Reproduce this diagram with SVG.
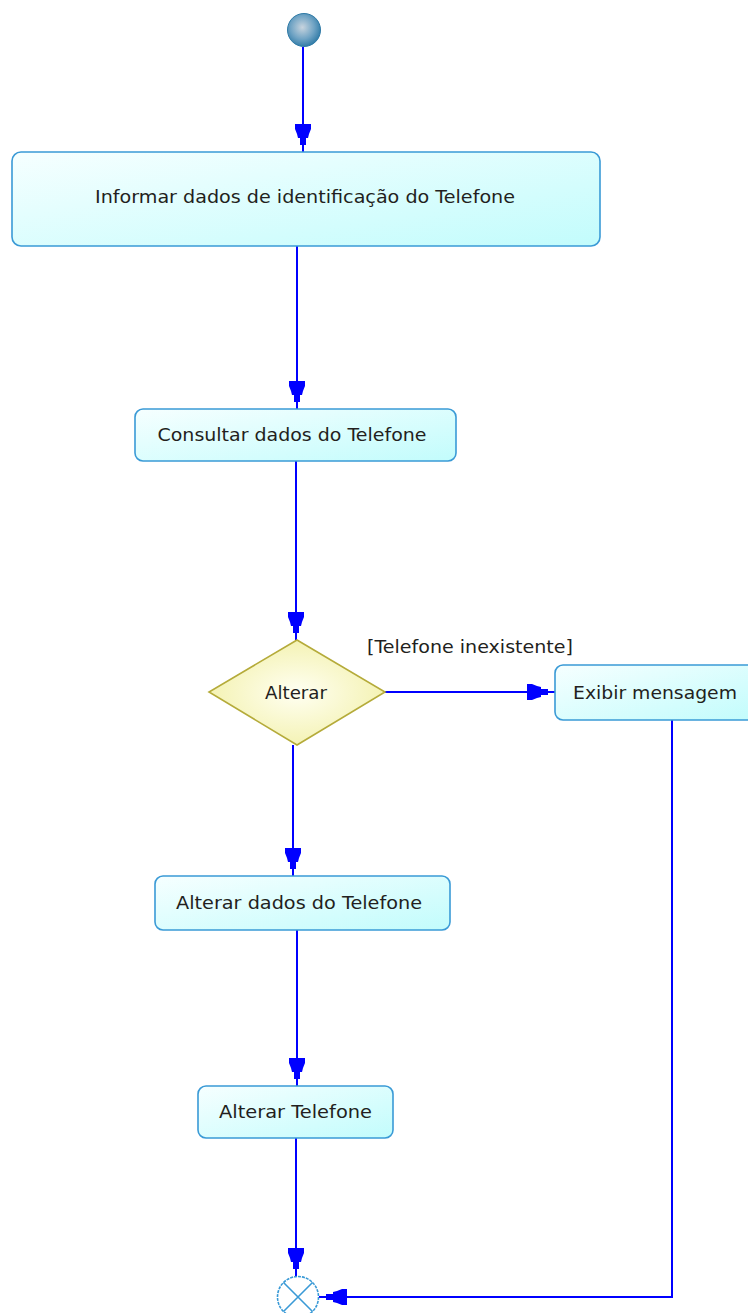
<svg xmlns="http://www.w3.org/2000/svg" width="748" height="1313" viewBox="0 0 748 1313">
<style>
.act{fill:url(#actGrad);stroke:#3a9ad6;stroke-width:1.6}
.lbl{font-family:"DejaVu Sans","Liberation Sans",sans-serif;font-size:18px;fill:#231f20;text-anchor:middle}
.glbl{font-family:"DejaVu Sans","Liberation Sans",sans-serif;font-size:18px;fill:#231f20}
.conn{fill:none;stroke:#0000ff;stroke-width:2}
</style>
<defs>
<linearGradient id="actGrad" x1="0" y1="0" x2="1" y2="1">
<stop offset="0" stop-color="#f6ffff"/>
<stop offset="1" stop-color="#c2fcfc"/>
</linearGradient>
<radialGradient id="decGrad" cx="0.5" cy="0.5" r="0.6">
<stop offset="0" stop-color="#fffff2"/>
<stop offset="1" stop-color="#f2f0a8"/>
</radialGradient>
<radialGradient id="startGrad" cx="0.45" cy="0.42" r="0.6">
<stop offset="0" stop-color="#c8d4de"/>
<stop offset="0.6" stop-color="#6fa3c4"/>
<stop offset="1" stop-color="#2f7aa6"/>
</radialGradient>
<marker id="arr" viewBox="-30 -10 32 20" markerWidth="32" markerHeight="20" refX="0" refY="0" orient="auto" markerUnits="userSpaceOnUse">
<path d="M-28,-8 L-23,-8 L-18,-6 L-14,-5 L-14,-3 L-7,-3 L-7,-1 L0,-1 L0,1 L-7,1 L-7,3 L-14,3 L-14,5 L-18,6 L-23,8 L-28,8 Z" fill="#0000ff"/>
</marker>
</defs>
<g id="connectors">
<path class="conn" d="M303,47 L303,152" marker-end="url(#arr)"/>
<path class="conn" d="M297,246 L297,409" marker-end="url(#arr)"/>
<path class="conn" d="M296,461 L296,640" marker-end="url(#arr)"/>
<path class="conn" d="M385,692 L555,692" marker-end="url(#arr)"/>
<path class="conn" d="M293,745 L293,876" marker-end="url(#arr)"/>
<path class="conn" d="M297,930 L297,1086" marker-end="url(#arr)"/>
<path class="conn" d="M296,1138 L296,1276" marker-end="url(#arr)"/>
<path class="conn" d="M672,720 L672,1297 L319,1297" marker-end="url(#arr)"/>
<text class="glbl" x="367" y="653" textLength="206" lengthAdjust="spacingAndGlyphs">[Telefone inexistente]</text>
</g>
<g id="start">
<circle cx="304" cy="30" r="16.5" fill="url(#startGrad)" stroke="#2f7aa6" stroke-width="1"/>
</g>
<g id="informar">
<rect class="act" x="12" y="152" width="588" height="94" rx="9"/>
<text class="lbl" x="305" y="203" textLength="420" lengthAdjust="spacingAndGlyphs">Informar dados de identificação do Telefone</text>
</g>
<g id="consultar">
<rect class="act" x="135" y="409" width="321" height="52" rx="8"/>
<text class="lbl" x="292" y="441" textLength="269" lengthAdjust="spacingAndGlyphs">Consultar dados do Telefone</text>
</g>
<g id="decisao">
<polygon points="297,640 385,692 297,745 209,692" fill="url(#decGrad)" stroke="#b5ab3a" stroke-width="1.6"/>
<text class="lbl" x="296" y="699" textLength="62" lengthAdjust="spacingAndGlyphs">Alterar</text>
</g>
<g id="exibir">
<rect class="act" x="555" y="665" width="200" height="55" rx="8"/>
<text class="lbl" x="655" y="699" textLength="164" lengthAdjust="spacingAndGlyphs">Exibir mensagem</text>
</g>
<g id="alterarDados">
<rect class="act" x="155" y="876" width="295" height="54" rx="8"/>
<text class="lbl" x="299" y="909" textLength="246" lengthAdjust="spacingAndGlyphs">Alterar dados do Telefone</text>
</g>
<g id="alterarTelefone">
<rect class="act" x="198" y="1086" width="195" height="52" rx="8"/>
<text class="lbl" x="295.5" y="1118" textLength="153" lengthAdjust="spacingAndGlyphs">Alterar Telefone</text>
</g>
<g id="fim">
<circle cx="298" cy="1297" r="20.5" fill="#ffffff" stroke="#3a9ad6" stroke-width="1.6" stroke-dasharray="3,1"/>
<path d="M283.5,1282.5 L312.5,1311.5 M312.5,1282.5 L283.5,1311.5" stroke="#3a9ad6" stroke-width="1.6"/>
</g>
</svg>
